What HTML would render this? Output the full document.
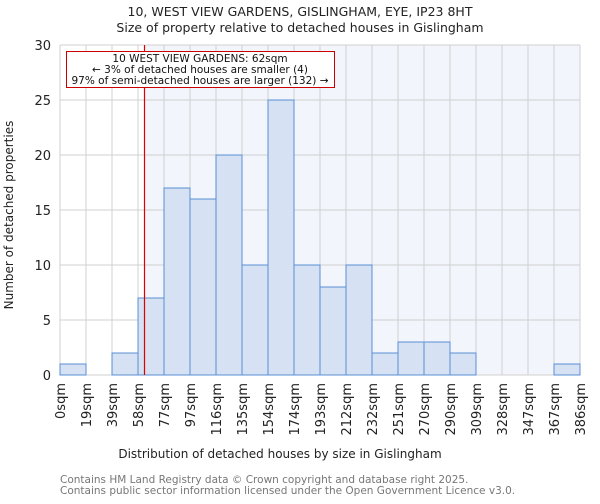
<!DOCTYPE html>
<html><head><meta charset="utf-8"><style>
body{margin:0;background:#fff;font-family:"DejaVu Sans","Liberation Sans",sans-serif;}
svg text{font-family:"DejaVu Sans","Liberation Sans",sans-serif;}
</style></head><body>
<svg id="c" width="600" height="500">
<text x="300" y="16" text-anchor="middle" font-size="12.5" fill="#222">10, WEST VIEW GARDENS, GISLINGHAM, EYE, IP23 8HT</text>
<text x="300" y="32" text-anchor="middle" font-size="12.5" fill="#222">Size of property relative to detached houses in Gislingham</text>
<g id="plot"></g>
<text x="280" y="458" text-anchor="middle" font-size="12" fill="#222">Distribution of detached houses by size in Gislingham</text>
<text transform="translate(13,215) rotate(-90)" text-anchor="middle" font-size="12" fill="#222">Number of detached properties</text>
<text x="60" y="483" font-size="10.5" fill="#777">Contains HM Land Registry data © Crown copyright and database right 2025.</text>
<text x="60" y="494" font-size="10.5" fill="#777">Contains public sector information licensed under the Open Government Licence v3.0.</text>
</svg>
<script>
const binLabels=["0sqm","19sqm","39sqm","58sqm","77sqm","97sqm","116sqm","135sqm","154sqm","174sqm","193sqm","212sqm","232sqm","251sqm","270sqm","290sqm","309sqm","328sqm","347sqm","367sqm","386sqm"];
const binEdges=[0,19.3,38.6,57.9,77.2,96.5,115.8,135.1,154.4,173.7,193,212.3,231.6,250.9,270.2,289.5,308.8,328.1,347.4,366.7,386];
const counts=[1,0,2,7,17,16,20,10,25,10,8,10,2,3,3,2,0,0,0,1];
const yTicks=[0,5,10,15,20,25,30];
const propertySize=62;
const NS="http://www.w3.org/2000/svg";
const g=document.getElementById('plot');
const X0=60,X1=580,Y0=375,Y1=45,XMAX=386,YMAX=30;
const xs=v=>X0+(v/XMAX)*(X1-X0);
const ys=v=>Y0-(v/YMAX)*(Y0-Y1);
function mk(t,a){const e=document.createElementNS(NS,t);for(const k in a)e.setAttribute(k,a[k]);g.appendChild(e);return e;}
const px=Math.round(xs(propertySize))+0.5;
let e=mk('rect',{x:X0,y:Y1,width:X1-X0,height:Y0-Y1,fill:'#fff'});


e=mk('rect',{x:px,y:Y1,width:X1-px,height:Y0-Y1,fill:'#f2f5fc'});


binEdges.forEach(v=>{e=mk('line',{x1:xs(v),x2:xs(v),y1:Y1,y2:Y0,stroke:'#d0d0d0','stroke-width':1});

});
yTicks.forEach(v=>{e=mk('line',{x1:X0,x2:X1,y1:ys(v),y2:ys(v),stroke:'#d0d0d0','stroke-width':1});


e=mk('text',{x:X0-9,y:ys(v)+5,'text-anchor':'end','font-size':13,fill:'#222'});e.textContent=v;

});
counts.forEach((c,i)=>{if(c<=0)return;const xa=xs(binEdges[i]),xb=xs(binEdges[i+1]);
e=mk('rect',{x:xa,y:ys(c),width:xb-xa,height:ys(0)-ys(c),fill:'#d6e1f3',stroke:'#5b8fd6','stroke-width':1});

});
binLabels.forEach((l,i)=>{const x=xs(binEdges[i]);
e=mk('text',{transform:`translate(${x+5},${Y0+8}) rotate(-90)`,'text-anchor':'end','font-size':13,fill:'#222'});e.textContent=l;

});
e=mk('line',{x1:px,x2:px,y1:Y1,y2:Y0,stroke:'#dd0000','stroke-width':1.2});


e=mk('rect',{x:66.5,y:51.5,width:268,height:36,fill:'#fff',stroke:'#cc0000','stroke-width':1});


["10 WEST VIEW GARDENS: 62sqm","← 3% of detached houses are smaller (4)","97% of semi-detached houses are larger (132) →"].forEach((t,i)=>{
e=mk('text',{x:200,y:62+i*11,'text-anchor':'middle','font-size':10.5,fill:'#111'});e.textContent=t;

});
</script>
</body></html>
